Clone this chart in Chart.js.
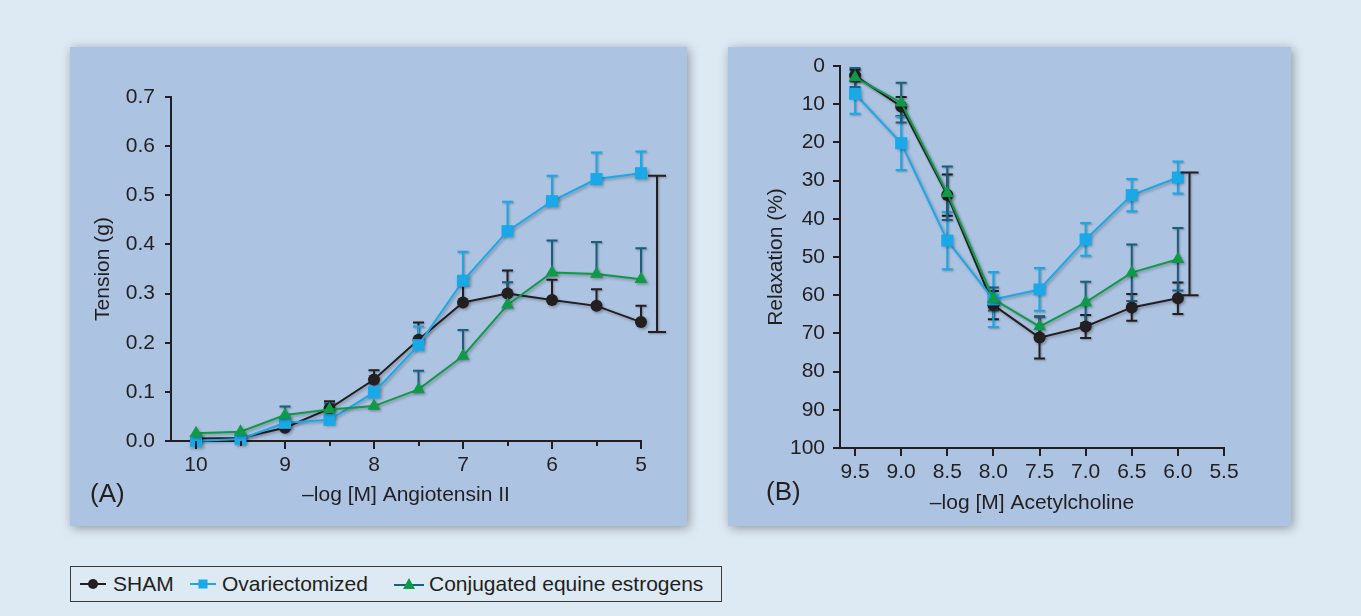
<!DOCTYPE html>
<html><head><meta charset="utf-8">
<script src="https://cdn.jsdelivr.net/npm/chart.js@4"></script>
<style>
html,body{margin:0;padding:0;}
body{background:#dde9f3;width:1361px;height:616px;overflow:hidden;position:relative;font-family:"Liberation Sans",Arial,Helvetica,sans-serif;color:#231f20;}
.panel{position:absolute;background:#adc3e2;box-shadow:2px 2px 10px rgba(0,0,0,0.35);}
#pa{left:70px;top:47px;width:617px;height:479px;}
#pb{left:728px;top:47px;width:563px;height:479px;}
.panel canvas{position:absolute;left:0;top:0;}
#legend{position:absolute;left:70px;top:566px;width:650px;height:34px;border:1.5px solid #3a3a3a;box-sizing:content-box;}
#legend .it{position:absolute;top:0;height:34px;line-height:34px;font-size:21px;white-space:nowrap;}
#legend svg{position:absolute;top:10px;}
</style>
</head><body>
<div class="panel" id="pa"><canvas id="ca" width="617" height="479"></canvas></div>
<div class="panel" id="pb"><canvas id="cb" width="563" height="479"></canvas></div>
<div id="legend">
  <svg style="left:9px" width="26" height="14"><line x1="0" y1="7" x2="26" y2="7" stroke="#231f20" stroke-width="2"/><circle cx="13" cy="7" r="5" fill="#231f20"/></svg>
  <span class="it" style="left:42px">SHAM</span>
  <svg style="left:119px" width="26" height="14"><line x1="0" y1="7" x2="26" y2="7" stroke="#1aa9e8" stroke-width="2"/><rect x="8.5" y="2.5" width="9" height="9" fill="#1aa9e8"/></svg>
  <span class="it" style="left:151px">Ovariectomized</span>
  <svg style="left:323px" width="30" height="14"><line x1="0" y1="8" x2="30" y2="8" stroke="#1a5e80" stroke-width="2"/><polygon points="15,1 21,12 9,12" fill="#0e9a49"/></svg>
  <span class="it" style="left:358px">Conjugated equine estrogens</span>
</div>
<script>
// ---------------- data ----------------
const DOSE_A = [10, 9.5, 9, 8.5, 8, 7.5, 7, 6.5, 6, 5.5, 5];
const SHAM_A = [0.005, 0.006, 0.027, 0.066, 0.125, 0.206, 0.282, 0.300, 0.287, 0.275, 0.242];
const SHAM_A_SEM = [0, 0, 0.006, 0.015, 0.019, 0.035, 0.035, 0.047, 0.041, 0.034, 0.033];
const OVX_A = [0.000, 0.004, 0.037, 0.043, 0.099, 0.195, 0.326, 0.427, 0.488, 0.533, 0.545];
const OVX_A_SEM = [0, 0, 0.004, 0.004, 0.017, 0.038, 0.059, 0.060, 0.052, 0.054, 0.044];
const CEE_A = [0.016, 0.019, 0.053, 0.064, 0.071, 0.105, 0.173, 0.277, 0.343, 0.340, 0.329];
const CEE_A_SEM = [0, 0, 0.017, 0.013, 0, 0.038, 0.053, 0.046, 0.065, 0.065, 0.063];
const X_TICKS_A = [10, 9.5, 9, 8.5, 8, 7.5, 7, 6.5, 6, 5.5, 5];
const Y_TICKS_A = [0, 0.1, 0.2, 0.3, 0.4, 0.5, 0.6, 0.7];
const BRACKET_A = {x: 4.82, from: 0.222, to: 0.540};

const DOSE_B = [9.5, 9.0, 8.5, 8.0, 7.5, 7.0, 6.5, 6.0];
const SHAM_B = [2.5, 10.6, 33.8, 62.6, 71.1, 68.2, 63.2, 60.8];
const SHAM_B_SEM = [1.5, 2.5, 5.4, 3.7, 5.5, 3.0, 3.5, 4.1];
const OVX_B = [7.3, 20.2, 45.7, 61.1, 58.5, 45.4, 33.8, 29.2];
const OVX_B_SEM = [5.2, 7.0, 7.5, 7.2, 5.6, 4.3, 4.2, 4.2];
const CEE_B = [3.0, 9.6, 33.3, 61.0, 68.2, 61.9, 54.1, 50.6];
const CEE_B_SEM = [2.5, 5.2, 7.0, 3.0, 2.6, 5.4, 7.4, 8.2];
const X_TICKS_B = [9.5, 9.0, 8.5, 8.0, 7.5, 7.0, 6.5, 6.0, 5.5];
const Y_TICKS_B = [0, 10, 20, 30, 40, 50, 60, 70, 80, 90, 100];
const BRACKET_B = {x: 5.874, from: 27.9, to: 60.0};

// ---------------- styles ----------------
const INK = '#231f20';
const C_SHAM = '#231f20', C_OVX = '#1aa9e8', C_CEE = '#0e9a49', C_CEE_ERR = '#1a5e80';
const FONT = {family: '"Liberation Sans", Arial, Helvetica, sans-serif', size: 21};
const EXTRAS = {};

function pts(xs, ys) { return xs.map((x, i) => ({x: x, y: ys[i]})); }

function ds(label, xs, ys, sem, color, errColor, style, radius, order, symmetric) {
  return {
    label, data: pts(xs, ys), sem, errColor, symmetric,
    borderColor: color, backgroundColor: color, borderWidth: 2,
    pointStyle: style, pointRadius: radius, pointHoverRadius: radius,
    pointBackgroundColor: color, pointBorderWidth: 0, tension: 0,
    clip: false, order
  };
}

const errorBars = {
  id: 'errorBars',
  beforeDatasetsDraw(chart) {
    const ctx = chart.ctx, xs = chart.scales.x, ys = chart.scales.y;
    chart.data.datasets.forEach(d => {
      if (!d.sem) return;
      ctx.save();
      ctx.strokeStyle = d.errColor; ctx.lineWidth = 2;
      ctx.shadowColor = 'rgba(0,0,0,0.3)'; ctx.shadowBlur = 2; ctx.shadowOffsetX = 1; ctx.shadowOffsetY = 1;
      d.data.forEach((p, i) => {
        const e = d.sem[i]; if (!e) return;
        const px = xs.getPixelForValue(p.x);
        const top = ys.getPixelForValue(p.y + e);
        const bot = d.symmetric ? ys.getPixelForValue(p.y - e) : ys.getPixelForValue(p.y);
        ctx.beginPath();
        ctx.moveTo(px, top); ctx.lineTo(px, bot);
        ctx.moveTo(px - 5.5, top); ctx.lineTo(px + 5.5, top);
        if (d.symmetric) { ctx.moveTo(px - 5.5, bot); ctx.lineTo(px + 5.5, bot); }
        ctx.stroke();
      });
      ctx.restore();
    });
  },
  beforeDatasetDraw(chart) {
    const ctx = chart.ctx; ctx.save();
    ctx.shadowColor = 'rgba(0,0,0,0.3)'; ctx.shadowBlur = 3; ctx.shadowOffsetX = 1.5; ctx.shadowOffsetY = 1.5;
  },
  afterDatasetDraw(chart) { chart.ctx.restore(); },
  afterDraw(chart) {
    const ctx = chart.ctx, xs = chart.scales.x, ys = chart.scales.y;
    const o = EXTRAS[chart.canvas.id];
    ctx.save();
    ctx.strokeStyle = INK; ctx.lineWidth = 2;
    const yb = chart.chartArea.bottom, xl = chart.chartArea.left;
    ctx.beginPath();
    ctx.moveTo(xl - o.yLen, Math.round(yb)); ctx.lineTo(xl, Math.round(yb));
    o.xTicks.forEach(v => {
      const px = Math.round(xs.getPixelForValue(v));
      const len = Number.isInteger(v) ? o.xMajor : o.xMinor;
      ctx.moveTo(px, yb); ctx.lineTo(px, yb + len);
    });
    o.yTicks.forEach(v => {
      const py = Math.round(ys.getPixelForValue(v));
      ctx.moveTo(xl, py); ctx.lineTo(xl - o.yLen, py);
    });
    ctx.stroke();
    const b = o.bracket;
    const bx = xs.getPixelForValue(b.x), b1 = ys.getPixelForValue(b.from), b2 = ys.getPixelForValue(b.to);
    ctx.shadowColor = 'rgba(0,0,0,0.3)'; ctx.shadowBlur = 2; ctx.shadowOffsetX = 1; ctx.shadowOffsetY = 1;
    ctx.beginPath();
    ctx.moveTo(bx, b1); ctx.lineTo(bx, b2);
    ctx.moveTo(bx - 9, b1); ctx.lineTo(bx + 9, b1);
    ctx.moveTo(bx - 9, b2); ctx.lineTo(bx + 9, b2);
    ctx.stroke();
    ctx.shadowColor = 'transparent';
    ctx.fillStyle = INK; ctx.font = '26px ' + FONT.family; ctx.textBaseline = 'middle'; ctx.textAlign = 'left';
    ctx.fillText(o.letter, o.letterX, o.letterY);
    ctx.restore();
  }
};

function makeChart(id, cfg) {
  EXTRAS[id] = cfg.extras;
  return new Chart(document.getElementById(id), {
    type: 'line',
    data: {datasets: cfg.datasets},
    plugins: [errorBars],
    options: {
      responsive: false, animation: false, devicePixelRatio: 1,
      layout: {padding: cfg.padding},
      plugins: {legend: {display: false}, tooltip: {enabled: false}},
      scales: {
        x: {
          type: 'linear', reverse: true, min: cfg.xMin, max: cfg.xMax,
          afterBuildTicks: s => { s.ticks = cfg.xTicks.map(v => ({value: v})); },
          afterFit: s => { s.height = cfg.xH; s.paddingLeft = 0; s.paddingRight = 0; },
          grid: {display: false, drawTicks: false},
          border: {display: true, color: INK, width: 2},
          ticks: {font: FONT, color: INK, padding: cfg.xPad, maxRotation: 0, autoSkip: false, callback: cfg.xLabel},
          title: {display: true, text: cfg.xTitle, font: FONT, color: INK, padding: {top: 0, bottom: cfg.xTitlePad}}
        },
        y: {
          type: 'linear', reverse: cfg.yReverse, min: cfg.yMin, max: cfg.yMax,
          afterBuildTicks: s => { s.ticks = cfg.yTicks.map(v => ({value: v})); },
          afterFit: s => { s.width = cfg.yW; s.paddingTop = 0; s.paddingBottom = 0; },
          grid: {display: false, drawTicks: false},
          border: {display: true, color: INK, width: 2},
          ticks: {font: FONT, color: INK, padding: cfg.yPad, autoSkip: false, callback: cfg.yLabel},
          title: {display: true, text: cfg.yTitle, font: FONT, color: INK, padding: {top: cfg.yTitlePad, bottom: 0}}
        }
      }
    }
  });
}

makeChart('ca', {
  datasets: [
    ds('SHAM', DOSE_A, SHAM_A, SHAM_A_SEM, C_SHAM, C_SHAM, 'circle', 6, 2, false),
    ds('Ovariectomized', DOSE_A, OVX_A, OVX_A_SEM, C_OVX, C_OVX, 'rect', 8.5, 1, false),
    ds('Conjugated equine estrogens', DOSE_A, CEE_A, CEE_A_SEM, C_CEE, C_CEE_ERR, 'triangle', 7.5, 0, false)
  ],
  padding: {left: 0, right: 46, top: 50, bottom: 0},
  xMin: 5, xMax: 10.281, xTicks: X_TICKS_A, xH: 85, xPad: 12,
  xLabel: v => Number.isInteger(v) ? String(v) : '',
  xTitle: '\u2013log [M] Angiotensin II', xTitlePad: 18,
  yMin: 0, yMax: 0.7, yReverse: false, yTicks: Y_TICKS_A, yW: 101, yPad: 16,
  yLabel: v => v.toFixed(1),
  yTitle: 'Tension (g)', yTitlePad: 21,
  extras: {xTicks: X_TICKS_A, xMajor: 8, xMinor: 5, yTicks: Y_TICKS_A, yLen: 6,
           bracket: BRACKET_A, letter: '(A)', letterX: 20, letterY: 448}
});

makeChart('cb', {
  datasets: [
    ds('SHAM', DOSE_B, SHAM_B, SHAM_B_SEM, C_SHAM, C_SHAM, 'circle', 6, 2, true),
    ds('Ovariectomized', DOSE_B, OVX_B, OVX_B_SEM, C_OVX, C_OVX, 'rect', 8.5, 1, true),
    ds('Conjugated equine estrogens', DOSE_B, CEE_B, CEE_B_SEM, C_CEE, C_CEE_ERR, 'triangle', 7.5, 0, true)
  ],
  padding: {left: 0, right: 67, top: 19, bottom: 0},
  xMin: 5.5, xMax: 9.663, xTicks: X_TICKS_B, xH: 78, xPad: 12,
  xLabel: v => v.toFixed(1),
  xTitle: '\u2013log [M] Acetylcholine', xTitlePad: 10,
  yMin: 0, yMax: 100, yReverse: true, yTicks: Y_TICKS_B, yW: 112, yPad: 15,
  yLabel: v => String(v),
  yTitle: 'Relaxation (%)', yTitlePad: 36,
  extras: {xTicks: X_TICKS_B, xMajor: 8, xMinor: 8, yTicks: Y_TICKS_B, yLen: 7,
           bracket: BRACKET_B, letter: '(B)', letterX: 38, letterY: 446}
});
</script>
</body></html>
